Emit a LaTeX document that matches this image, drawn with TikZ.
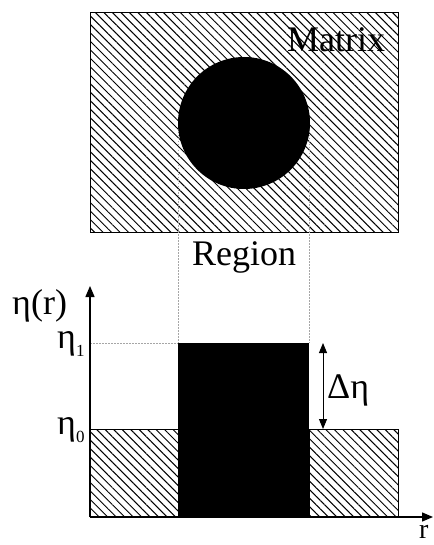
\documentclass[tikz,border=0pt]{standalone}
\usepackage{fontspec}
\setmainfont{Liberation Serif}
\usetikzlibrary{patterns.meta,arrows.meta}
\tikzset{
  hatch/.style={pattern={Lines[angle=-45,distance=6pt,line width=1pt]},pattern color=black},
  lbl/.style={anchor=base west,inner sep=0pt,font=\fontsize{36}{40}\selectfont},
  guide/.style={draw=gray!70,dash pattern=on 1.5pt off 1.5pt,line width=0.6pt},
  axis/.style={line width=1.4pt,-{Triangle[length=11pt,width=9pt]}},
  dim/.style={line width=0.9pt,{Triangle[length=10pt,width=8pt]}-{Triangle[length=10pt,width=8pt]}}
}
\newcommand{\subidx}[1]{\raisebox{-8.5pt}{\fontsize{17}{17}\selectfont #1}}
\begin{document}
\begin{tikzpicture}[x=1pt,y=-1pt]
\useasboundingbox (0,0) rectangle (433,545);
% top matrix with inclusion
\path[hatch] (90,13) rectangle (398,232);
\draw[line width=1pt] (90,13) rectangle (398,232);
\coordinate (cl) at (178,123);
\coordinate (cr) at (309,123);
\draw[guide] (cl) -- (178,343);
\draw[guide] (cr) -- (309,343);
\fill[black] (244,123) circle (66);
\node[lbl] (matrix) at (287,52) {Matrix};
\node[lbl] (region) at (192,265) {Region};
% profile
\coordinate (o) at (90,517);
\coordinate (ytip) at (90,286);
\coordinate (xtip) at (433,517);
\path[hatch] (90,429) rectangle (178,517);
\draw[line width=0.6pt] (90,429) rectangle (178,517);
\path[hatch] (309,429) rectangle (398,517);
\draw[line width=0.6pt] (309,429) rectangle (398,517);
\fill[black] (178,343) rectangle (309,517);
\coordinate (e1a) at (90,343);
\coordinate (e1b) at (178,343);
\draw[guide] (e1a) -- (e1b);
\draw[axis] (o) -- (ytip);
\draw[axis] (o) -- (xtip);
\coordinate (dtop) at (323,343);
\coordinate (dbot) at (323,429);
\draw[dim] (dtop) -- (dbot);
\node[lbl] (eta) at (12,314) {η(r)};
\node[lbl] (eta1) at (57,348) {η\subidx{1}};
\node[lbl] (eta0) at (57,434) {η\subidx{0}};
\node[lbl] (deta) at (327,398) {Δη};
\node[lbl,font=\fontsize{28}{32}\selectfont] (r) at (419,538) {r};
\end{tikzpicture}
\end{document}
